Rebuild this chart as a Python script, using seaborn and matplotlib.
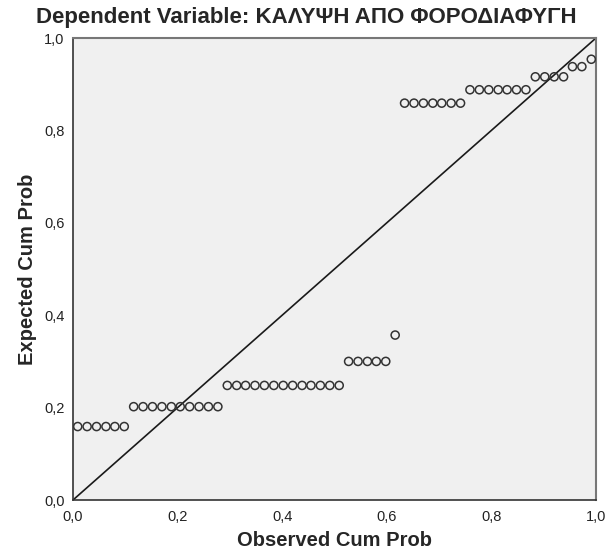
import matplotlib
matplotlib.use("Agg")
import matplotlib.pyplot as plt
import seaborn as sns
import pandas as pd
from matplotlib.ticker import FuncFormatter

# Observed cumulative probabilities (x) and expected cumulative probabilities (y)
observed = [0.009, 0.027, 0.045, 0.063, 0.080, 0.098,
            0.116, 0.134, 0.152, 0.170, 0.188, 0.205, 0.223, 0.241, 0.259, 0.277,
            0.295, 0.313, 0.330, 0.348, 0.366, 0.384, 0.402, 0.420, 0.438, 0.455, 0.473, 0.491, 0.509,
            0.527, 0.545, 0.563, 0.580, 0.598,
            0.616,
            0.634, 0.652, 0.670, 0.688, 0.705, 0.723, 0.741,
            0.759, 0.777, 0.795, 0.813, 0.830, 0.848, 0.866,
            0.884, 0.902, 0.920, 0.938,
            0.955, 0.973,
            0.991]
expected = [0.159] * 6 + [0.202] * 10 + [0.248] * 13 + [0.300] * 5 + [0.357] + \
           [0.859] * 7 + [0.888] * 7 + [0.916] * 4 + [0.938] * 2 + [0.954]

title = "Dependent Variable: ΚΑΛΥΨΗ ΑΠΟ ΦΟΡΟΔΙΑΦΥΓΗ"
xlabel = "Observed Cum Prob"
ylabel = "Expected Cum Prob"
ticks = [0.0, 0.2, 0.4, 0.6, 0.8, 1.0]

sns.set_style("white")
plt.rcParams["font.family"] = ["Liberation Sans", "DejaVu Sans"]

df = pd.DataFrame({"obs": observed, "exp": expected})

fig = plt.figure(figsize=(6.06, 5.54), dpi=100)
ax = fig.add_axes([73 / 606, 1 - 500 / 554, (596 - 73) / 606, (500 - 38) / 554])
ax.set_facecolor("#f0f0f0")

ax.plot([0, 1], [0, 1], color="#1a1a1a", linewidth=1.2, zorder=2)
sns.scatterplot(data=df, x="obs", y="exp", ax=ax, marker="o", s=34,
                facecolors="none", edgecolor="#333333", linewidth=1.1, zorder=3)

ax.set_xlim(0, 1)
ax.set_ylim(0, 1)
ax.set_xticks(ticks)
ax.set_yticks(ticks)
fmt = FuncFormatter(lambda v, p: f"{v:.1f}".replace(".", ","))
ax.xaxis.set_major_formatter(fmt)
ax.yaxis.set_major_formatter(fmt)
ax.tick_params(axis="both", direction="out", length=5, width=1, color="#333333",
               labelsize=10.5, labelcolor="#222222", pad=1)
ax.tick_params(axis="x", pad=2)

for side in ["left", "bottom"]:
    ax.spines[side].set_color("#333333")
    ax.spines[side].set_linewidth(1.2)
for side in ["top", "right"]:
    ax.spines[side].set_color("#777777")
    ax.spines[side].set_linewidth(1.5)

ax.set_xlabel(xlabel, fontsize=14.5, fontweight="bold", labelpad=5)
ax.set_ylabel(ylabel, fontsize=14.5, fontweight="bold", labelpad=5)
fig.text(0.506, 1 - 18 / 554, title, ha="center", va="center", fontsize=16, fontweight="bold")

fig.savefig("out.png", dpi=100)
